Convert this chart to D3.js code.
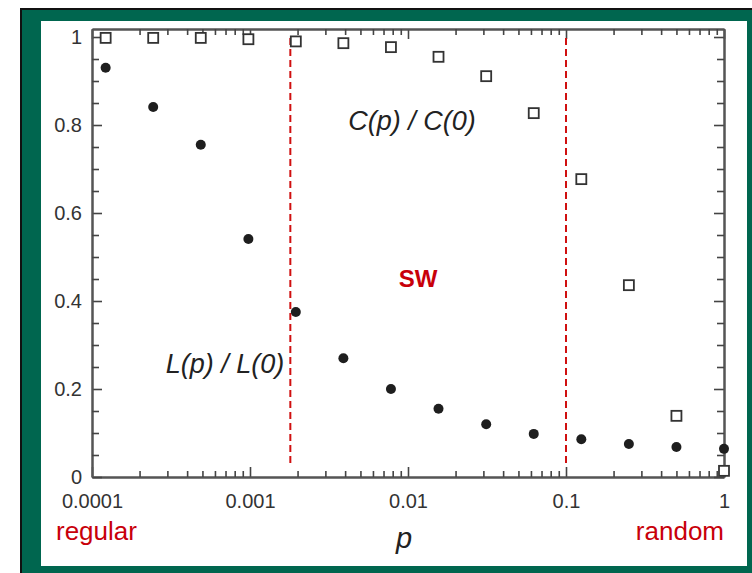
<!DOCTYPE html>
<html>
<head>
<meta charset="utf-8">
<script src="https://cdn.jsdelivr.net/npm/d3@7"></script>
<style>
  body { margin: 0; background: #fff; }
  svg { display: block; font-family: "Liberation Sans", Arial, sans-serif; }
</style>
</head>
<body>
<svg id="chart" width="752" height="573"></svg>
<script>
// rewiring probability p (log spaced)
var pValues = [0.000122, 0.000244, 0.000488, 0.000977, 0.00195, 0.0039, 0.0078, 0.0156, 0.03125, 0.0625, 0.125, 0.25, 0.5, 1];
// normalised path length L(p)/L(0)
var lengthRatio = [0.93, 0.841, 0.755, 0.541, 0.375, 0.27, 0.2, 0.155, 0.12, 0.098, 0.086, 0.075, 0.068, 0.064];
// normalised clustering C(p)/C(0)
var clusterRatio = [0.998, 0.998, 0.998, 0.995, 0.99, 0.986, 0.977, 0.955, 0.911, 0.827, 0.677, 0.436, 0.139, 0.014];

var xTicks = [0.0001, 0.001, 0.01, 0.1, 1];
var xTickLabels = ["0.0001", "0.001", "0.01", "0.1", "1"];
var yTicks = [0, 0.2, 0.4, 0.6, 0.8, 1];
var yTickLabels = ["0", "0.2", "0.4", "0.6", "0.8", "1"];
var regimeBounds = [0.0018, 0.1]; // small-world window

var red = "#c8000a";
var axisCol = "#555";

var svg = d3.select("#chart");

// frame
svg.append("rect").attr("x", 20).attr("y", 8).attr("width", 732).attr("height", 565).attr("fill", "#111");
svg.append("rect").attr("x", 22).attr("y", 10).attr("width", 730).attr("height", 563).attr("fill", "#00664f");
svg.append("rect").attr("x", 41).attr("y", 21).attr("width", 706).attr("height", 545).attr("fill", "#fff");

var x = d3.scaleLog().domain([0.0001, 1]).range([92, 724]);
var y = d3.scaleLinear().domain([0, 1.0182]).range([477, 29]);

var xMinor = [];
xTicks.slice(0, -1).forEach(function (d) {
	for (var k = 2; k <= 9; k++) xMinor.push(d * k);
});
var yMinor = d3.range(0, 1.001, 0.05).filter(function (v) { return Math.abs(v * 5 - Math.round(v * 5)) > 1e-6; });

var g = svg.append("g");

function styleAxis(sel) {
	sel.select(".domain").attr("stroke", axisCol).attr("stroke-width", 2);
	sel.selectAll(".tick line").attr("stroke", "#444").attr("stroke-width", 1.6);
	sel.selectAll("text").attr("fill", "#333").attr("font-size", 20);
}

// bottom
g.append("g").attr("transform", "translate(0,477)")
	.call(d3.axisBottom(x).tickValues(xTicks).tickFormat(function (d, i) { return xTickLabels[i]; })
		.tickSizeInner(-10).tickSizeOuter(0).tickPadding(17))
	.call(styleAxis);
g.append("g").attr("transform", "translate(0,477)")
	.call(d3.axisBottom(x).tickValues(xMinor).tickFormat("").tickSizeInner(-6).tickSizeOuter(0))
	.call(styleAxis);
// top
g.append("g").attr("transform", "translate(0,29)")
	.call(d3.axisTop(x).tickValues(xTicks).tickFormat("").tickSizeInner(-10).tickSizeOuter(0))
	.call(styleAxis);
g.append("g").attr("transform", "translate(0,29)")
	.call(d3.axisTop(x).tickValues(xMinor).tickFormat("").tickSizeInner(-6).tickSizeOuter(0))
	.call(styleAxis);
// left
g.append("g").attr("transform", "translate(92,0)")
	.call(d3.axisLeft(y).tickValues(yTicks).tickFormat(function (d, i) { return yTickLabels[i]; })
		.tickSizeInner(-10).tickSizeOuter(0).tickPadding(10))
	.call(styleAxis);
g.append("g").attr("transform", "translate(92,0)")
	.call(d3.axisLeft(y).tickValues(yMinor).tickFormat("").tickSizeInner(-7).tickSizeOuter(0))
	.call(styleAxis);
// right
g.append("g").attr("transform", "translate(724,0)")
	.call(d3.axisRight(y).tickValues(yTicks).tickFormat("").tickSizeInner(-10).tickSizeOuter(0))
	.call(styleAxis);
g.append("g").attr("transform", "translate(724,0)")
	.call(d3.axisRight(y).tickValues(yMinor).tickFormat("").tickSizeInner(-7).tickSizeOuter(0))
	.call(styleAxis);

// regime boundaries
g.selectAll(".bound")
	.data(regimeBounds)
	.enter().append("line")
	.attr("class", "bound")
	.attr("x1", function (d) { return x(d); })
	.attr("x2", function (d) { return x(d); })
	.attr("y1", 38)
	.attr("y2", 467)
	.attr("stroke", "#d01010")
	.attr("stroke-width", 2)
	.attr("stroke-dasharray", "7,4");

var pts = pValues.map(function (p, i) { return { p: p, L: lengthRatio[i], C: clusterRatio[i] }; });

// clustering squares
g.selectAll(".sq")
	.data(pts)
	.enter().append("rect")
	.attr("class", "sq")
	.attr("x", function (d) { return x(d.p) - 5; })
	.attr("y", function (d) { return y(d.C) - 5; })
	.attr("width", 10)
	.attr("height", 10)
	.attr("fill", "#fff")
	.attr("stroke", "#333")
	.attr("stroke-width", 1.8);

// path length dots
g.selectAll(".dot")
	.data(pts)
	.enter().append("circle")
	.attr("class", "dot")
	.attr("cx", function (d) { return x(d.p); })
	.attr("cy", function (d) { return y(d.L); })
	.attr("r", 5)
	.attr("fill", "#1e1e1e");

// annotations
function ratioLabel(sym, cx, by) {
	var t = g.append("text").attr("x", cx).attr("y", by)
		.attr("text-anchor", "middle").attr("font-size", 27).attr("fill", "#222")
		.attr("font-style", "italic");
	t.append("tspan").text(sym + "(p) / " + sym + "(0)");
}
ratioLabel("C", 412, 130);
ratioLabel("L", 225, 373);

g.append("text").attr("x", 418).attr("y", 287).attr("text-anchor", "middle")
	.attr("font-size", 24).attr("font-weight", "bold").attr("fill", red).text("SW");

g.append("text").attr("x", 404).attr("y", 548).attr("text-anchor", "middle")
	.attr("font-size", 29).attr("font-style", "italic").attr("fill", "#222").text("p");

g.append("text").attr("x", 56).attr("y", 540).attr("font-size", 26).attr("fill", red).text("regular");
g.append("text").attr("x", 724).attr("y", 540).attr("text-anchor", "end")
	.attr("font-size", 26).attr("fill", red).text("random");
</script>
</body>
</html>
